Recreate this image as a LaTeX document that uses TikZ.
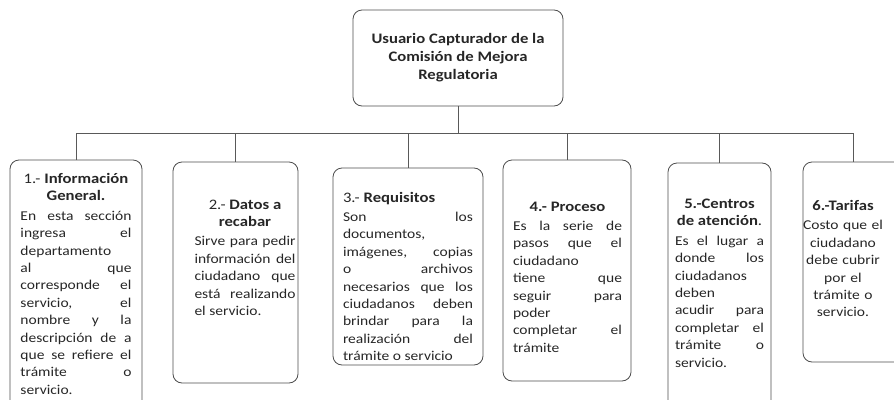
\documentclass[tikz,border=0pt]{standalone}
\usepackage{fontspec}
\setmainfont{Carlito}[FakeStretch=1.15]
\usetikzlibrary{positioning}
\tikzset{every node/.append style={execute at begin node={\hyphenpenalty=10000\exhyphenpenalty=10000\relax}}}
\newcommand{\ttl}[2][\centering]{{#1\fontsize{14.5}{17.4}\selectfont #2\par}\vspace{2pt}}

\begin{document}
\begin{tikzpicture}[x=1pt, y=-1pt, font=\fontsize{13.5}{17.4}\selectfont, text=black!85,
  frame/.style={draw=black!70, line width=0.8pt, rounded corners=9pt, inner sep=0pt},
  body/.style={inner sep=0pt, anchor=base},
  link/.style={draw=black!65, line width=0.8pt},
]
  \useasboundingbox (0,0) rectangle (894,399);
  \clip (0,0) rectangle (894,399);
  % caja superior
  \node[frame, minimum width=210pt, minimum height=96pt, align=center,
        font=\fontsize{14.5}{18}\selectfont\bfseries] (cap) at (458,58)
        {Usuario Capturador de la\\Comisión de Mejora\\Regulatoria};
  \coordinate (bus) at (458,133);
  % marcos de las seis cajas
  \foreach \k/\cx/\cy/\bw/\bh in {1/76/285/132/250, 2/235.5/272.5/125/221, 3/408/266.5/150/197,
                                  4/567/270.5/128/221, 5/719.5/286.5/103/247, 6/853/262/100/200} {
    \node[frame, minimum width=\bw pt, minimum height=\bh pt] (b\k) at (\cx,\cy) {};
  }
  % textos
  \foreach \k/\tx/\ty/\tw/\al/\txt in {%
    1/76/183.5/111/justify/{\ttl{1.- \textbf{Información General.}}En esta sección\linebreak ingresa el\linebreak departamento\linebreak al que\linebreak corresponde el\linebreak servicio, el\linebreak nombre y la\linebreak descripción de a\linebreak que se refiere el\linebreak trámite o\linebreak servicio.},%
    2/245/209/101/justify/{\ttl{2.- \textbf{Datos a recabar}}Sirve para pedir\linebreak información del\linebreak ciudadano que\linebreak está realizando\linebreak el servicio.},%
    3/408/202/130/justify/{\ttl[\raggedright]{3.- \textbf{Requisitos}}Son los\linebreak documentos,\linebreak imágenes, copias\linebreak o archivos\linebreak necesarios que los\linebreak ciudadanos deben\linebreak brindar para la\linebreak realización del\linebreak trámite o servicio},%
    4/567.5/211/109/justify/{\ttl{\textbf{4.- Proceso}}Es la serie de\linebreak pasos que el\linebreak ciudadano\linebreak tiene que\linebreak seguir para\linebreak poder\linebreak completar el\linebreak trámite},%
    5/719.5/208.5/89/justify/{\ttl{\textbf{5.-Centros de atención}.}Es el lugar a\linebreak donde los\linebreak ciudadanos\linebreak deben\linebreak acudir para\linebreak completar el\linebreak trámite o\linebreak servicio.},%
    6/843/210.5/90/center/{\ttl{\textbf{6.-Tarifas}}Costo que el\\ciudadano\\debe cubrir\\por el\\trámite o\\servicio.}%
  } {
    \node[body, text width=\tw pt, align=\al] (t\k) at (\tx,\ty) {\txt};
  }
  % conectores
  \draw[link] (cap.south) -- (bus);
  \draw[link] (b1.north |- bus) -- (b6.north |- bus);
  \foreach \k in {1,...,6} {
    \draw[link] (b\k.north |- bus) -- (b\k.north);
  }
\end{tikzpicture}
\end{document}
